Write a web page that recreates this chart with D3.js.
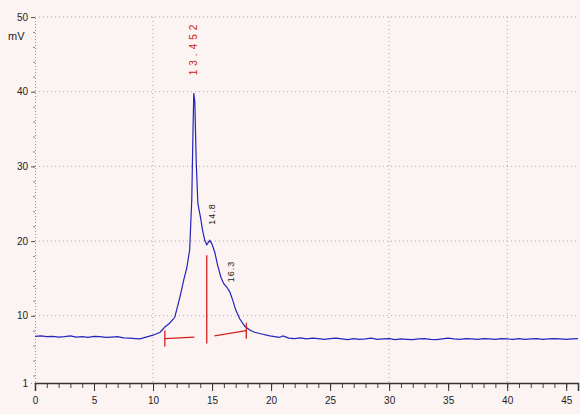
<!DOCTYPE html>
<html>
<head>
<meta charset="utf-8">
<script src="https://cdn.jsdelivr.net/npm/d3@7"></script>
<style>
  body { margin: 0; background: #fcf4f2; }
  svg { display: block; font-family: "Liberation Sans", Arial, sans-serif; }
</style>
</head>
<body>
<div id="chart"></div>
<script>
// retention time (min) and detector signal (mV)
const times = [
  0, 0.5, 1, 1.5, 2, 2.5, 3, 3.5, 4, 4.5, 5, 5.5, 6, 6.5, 7, 7.5, 8, 8.5,
  8.9, 10.0, 10.6, 11.0, 11.4, 11.84, 12.1, 12.35, 12.6, 12.86, 13.1, 13.28, 13.37, 13.45,
  13.54, 13.66, 13.8, 14.04, 14.2, 14.38, 14.55, 14.8, 14.97, 15.23, 15.48, 15.74, 15.99,
  16.24, 16.5, 16.75, 17.0, 17.34, 17.77, 18.19, 18.6, 19.2, 19.9, 20.7,
  21, 21.5, 22, 22.5, 23, 23.5, 24, 24.5, 25, 25.5, 26, 26.5, 27, 27.5, 28, 28.5,
  29, 29.5, 30, 30.5, 31, 31.5, 32, 32.5, 33, 33.5, 34, 34.5, 35, 35.5, 36, 36.5,
  37, 37.5, 38, 38.5, 39, 39.5, 40, 40.5, 41, 41.5, 42, 42.5, 43, 43.5, 44, 44.5, 45, 45.5, 46
];
const signal = [
  7.25, 7.3, 7.2, 7.25, 7.15, 7.2, 7.3, 7.15, 7.2, 7.1, 7.25, 7.2, 7.1, 7.15, 7.2, 7.05, 7.0, 6.95,
  6.9, 7.4, 7.8, 8.5, 9.0, 9.8, 11.4, 13.0, 14.8, 16.4, 18.8, 25.5, 33.5, 39.8,
  38.6, 30.5, 25.0, 23.0, 21.4, 20.1, 19.5, 20.1, 19.7, 18.5, 16.7, 15.2, 14.3,
  13.85, 13.2, 12.1, 10.8, 9.6, 8.6, 8.1, 7.8, 7.56, 7.3, 7.1,
  7.3, 7.0, 6.95, 7.05, 6.9, 7.0, 6.95, 6.85, 6.95, 7.0, 6.9, 6.8, 6.95, 6.85, 6.9, 7.0,
  6.85, 6.9, 6.95, 6.8, 6.9, 6.85, 6.8, 6.9, 6.95, 6.85, 6.8, 6.9, 7.0, 6.9, 6.85, 6.95,
  6.9, 6.85, 6.95, 6.9, 6.85, 6.95, 6.9, 6.85, 6.95, 6.85, 6.9, 6.95, 6.85, 6.9, 6.95, 6.9, 6.85, 6.9, 6.95
];

// integration baseline segments and peak drop line
const baseLeft = [[11.0, 6.95], [13.5, 7.15]];
const baseRight = [[15.2, 7.3], [17.9, 8.0]];
const dropLine = [[14.55, 18.1], [14.55, 6.3]];

// peak labels: [time, value, text]
const peakLabels = [
  [13.45, 42.2, '13.452'],
  [15.0, 22.2, '14.8'],
  [16.6, 14.5, '16.3']
];

const xTicks = [0, 5, 10, 15, 20, 25, 30, 35, 40, 45];
const xGrid = [10, 30, 40];
const yTicks = [10, 20, 30, 40, 50];
const yMinLabel = '1';
const yUnit = 'mV';

const W = 580, H = 414;
const margin = {top: 17, right: 2, bottom: 31, left: 35};
const width = W - margin.left - margin.right;
const height = H - margin.top - margin.bottom;

const svg = d3.select('#chart').append('svg')
    .attr('width', W)
    .attr('height', H);

svg.append('rect').attr('width', W).attr('height', H).attr('fill', '#fcf4f2');

const g = svg.append('g')
    .attr('transform', 'translate(' + margin.left + ',' + margin.top + ')');

const xScale = d3.scaleLinear().domain([0, 46]).range([0, width]);
const yScale = d3.scaleLinear().domain([1, 50]).range([height, 0]);

// grid
g.append('g').selectAll('line').data(yTicks).join('line')
    .attr('x1', 0).attr('x2', width)
    .attr('y1', d => yScale(d)).attr('y2', d => yScale(d))
    .attr('stroke', '#a8a8a8').attr('stroke-width', 1)
    .attr('stroke-dasharray', '1,3');

g.append('g').selectAll('line').data(xGrid).join('line')
    .attr('x1', d => xScale(d)).attr('x2', d => xScale(d))
    .attr('y1', 0).attr('y2', height)
    .attr('stroke', '#a8a8a8').attr('stroke-width', 1)
    .attr('stroke-dasharray', '1,3');

// x axis with minor ticks
const xMinor = d3.range(0, 46.01, 1);
g.append('g')
    .attr('transform', 'translate(0,' + height + ')')
    .call(d3.axisBottom(xScale).tickValues(xMinor).tickSize(5).tickFormat(''))
    .call(a => a.select('.domain').remove())
    .call(a => a.selectAll('line').attr('stroke', '#444'));

const xAxisGroup = g.append('g')
    .attr('class', 'axis x-axis')
    .attr('transform', 'translate(0,' + height + ')')
    .call(d3.axisBottom(xScale).tickValues(xTicks).tickSize(8).tickPadding(6).tickFormat(d => d));
xAxisGroup.select('.domain').attr('stroke', '#333').attr('stroke-width', 1.5);
xAxisGroup.selectAll('line').attr('stroke', '#333');
xAxisGroup.selectAll('text').attr('font-size', 10).attr('fill', '#222');

// y axis (dotted line, minor ticks)
const yMinor = d3.range(2, 50.01, 2);
g.append('g')
    .call(d3.axisLeft(yScale).tickValues(yMinor).tickSize(2).tickFormat(''))
    .call(a => a.select('.domain').remove())
    .call(a => a.selectAll('line').attr('stroke', '#888'));

const yAxisGroup = g.append('g')
    .attr('class', 'axis y-axis')
    .call(d3.axisLeft(yScale).tickValues(yTicks).tickSize(4).tickPadding(3).tickFormat(d => d));
yAxisGroup.select('.domain').attr('stroke', '#999').attr('stroke-dasharray', '1,2');
yAxisGroup.selectAll('line').attr('stroke', '#555');
yAxisGroup.selectAll('text').attr('font-size', 10).attr('fill', '#222');

g.append('text')
    .attr('x', -7).attr('y', height + 4)
    .attr('text-anchor', 'end')
    .attr('font-size', 10).attr('fill', '#222')
    .text(yMinLabel);

svg.append('text')
    .attr('x', 8).attr('y', 40)
    .attr('font-size', 11).attr('fill', '#222')
    .text(yUnit);

// signal trace
const line = d3.line()
    .x(d => xScale(d[0]))
    .y(d => yScale(d[1]));

g.append('path')
    .datum(d3.zip(times, signal))
    .attr('fill', 'none')
    .attr('stroke', '#2424bc')
    .attr('stroke-width', 1.2)
    .attr('d', line);

// integration marks
[baseLeft, baseRight, dropLine].forEach(seg => {
  g.append('path')
      .datum(seg)
      .attr('fill', 'none')
      .attr('stroke', '#d42020')
      .attr('stroke-width', 1.3)
      .attr('d', line);
});

// small vertical ticks at baseline ends
[[11.0, 6.95], [17.9, 8.0]].forEach(p => {
  g.append('line')
      .attr('x1', xScale(p[0])).attr('x2', xScale(p[0]))
      .attr('y1', yScale(p[1]) - 8).attr('y2', yScale(p[1]) + 8)
      .attr('stroke', '#d42020').attr('stroke-width', 1.3);
});

// peak labels (vertical)
g.selectAll('.peak-label').data(peakLabels).join('text')
    .attr('class', 'peak-label')
    .attr('transform', d => 'translate(' + (xScale(d[0]) + 3) + ',' + yScale(d[1]) + ') rotate(-90)')
    .attr('font-size', (d, i) => i === 0 ? 10 : 9)
    .attr('letter-spacing', (d, i) => i === 0 ? 4 : 1)
    .attr('fill', (d, i) => i === 0 ? '#c81e1e' : '#222')
    .text(d => d[2]);
</script>
</body>
</html>
